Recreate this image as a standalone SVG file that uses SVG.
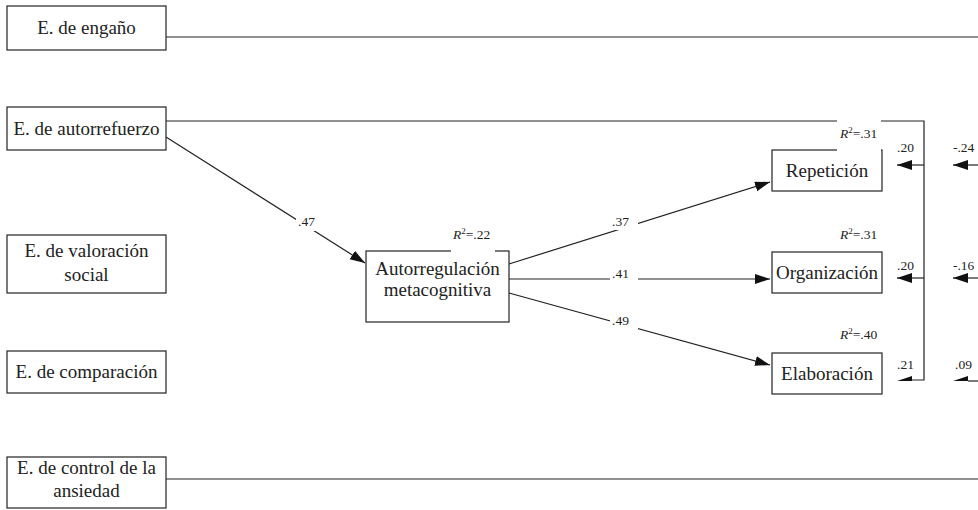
<svg xmlns="http://www.w3.org/2000/svg" width="978" height="510" viewBox="0 0 978 510">
<defs>
<style>
.box{fill:#fff;stroke:#222;stroke-width:1.2}
.t{font-family:'Liberation Serif','Times New Roman',Times,'DejaVu Serif',serif;font-size:19px;fill:#222;text-anchor:middle}
.s{font-family:'Liberation Serif','Times New Roman',Times,'DejaVu Serif',serif;font-size:13.5px;fill:#222}
.ln{stroke:#222;stroke-width:1.2;fill:none}
.bg{fill:#fff}
</style>
<marker id="ah" markerUnits="userSpaceOnUse" markerWidth="16" markerHeight="12" refX="15" refY="5" orient="auto">
<path d="M0,0 L15,5 L0,10 z" fill="#111"/>
</marker>
</defs>
<g id="connectors">
<line class="ln" x1="166" y1="37" x2="978" y2="37"/>
<line class="ln" x1="166" y1="479" x2="978" y2="479"/>
<polyline class="ln" points="166,121 924,121 924,380 912,380"/>
<line class="ln" x1="166" y1="137" x2="365" y2="263" marker-end="url(#ah)"/>
<line class="ln" x1="509" y1="264" x2="770" y2="182" marker-end="url(#ah)"/>
<line class="ln" x1="509" y1="279" x2="770" y2="279" marker-end="url(#ah)"/>
<line class="ln" x1="509" y1="293" x2="770" y2="365" marker-end="url(#ah)"/>
<line class="ln" x1="924" y1="165" x2="897" y2="165" marker-end="url(#ah)"/>
<line class="ln" x1="924" y1="278" x2="897" y2="278" marker-end="url(#ah)"/>
<polygon points="897,381 912,376 912,381" fill="#111"/>
<line class="ln" x1="978" y1="165" x2="953" y2="165" marker-end="url(#ah)"/>
<line class="ln" x1="978" y1="278" x2="953" y2="278" marker-end="url(#ah)"/>
<line class="ln" x1="978" y1="381" x2="968" y2="381"/>
<polygon points="953,381 968,376 968,381" fill="#111"/>
<rect class="bg" x="296" y="211" width="22" height="20"/>
<text class="s" x="298" y="226">.47</text>
<rect class="bg" x="610" y="212" width="28" height="18"/>
<text class="s" x="612" y="226">.37</text>
<rect class="bg" x="610" y="266" width="28" height="18"/>
<text class="s" x="612" y="278">.41</text>
<rect class="bg" x="610" y="311" width="28" height="18"/>
<text class="s" x="612" y="325">.49</text>
<text class="s" x="897" y="152">.20</text>
<text class="s" x="897" y="270">.20</text>
<text class="s" x="897" y="369">.21</text>
<text class="s" x="953" y="152">-.24</text>
<text class="s" x="953" y="270">-.16</text>
<text class="s" x="955" y="369">.09</text>
</g>
<g id="engano">
<rect class="box" x="7" y="6" width="159" height="44"/>
<text class="t" x="86.5" y="34">E. de engaño</text>
</g>
<g id="autorrefuerzo">
<rect class="box" x="7" y="107" width="159" height="43"/>
<text class="t" x="86.5" y="135">E. de autorrefuerzo</text>
</g>
<g id="valoracion">
<rect class="box" x="7" y="235" width="159" height="58"/>
<text class="t" x="86.5" y="257">E. de valoración</text>
<text class="t" x="86.5" y="281">social</text>
</g>
<g id="comparacion">
<rect class="box" x="7" y="351" width="159" height="42"/>
<text class="t" x="86.5" y="378">E. de comparación</text>
</g>
<g id="control">
<rect class="box" x="7" y="457" width="159" height="51"/>
<text class="t" x="86.5" y="474">E. de control de la</text>
<text class="t" x="86.5" y="497">ansiedad</text>
</g>
<g id="autorregulacion">
<rect class="box" x="366" y="251" width="143" height="71"/>
<text class="t" x="437.5" y="275">Autorregulación</text>
<text class="t" x="437.5" y="296">metacognitiva</text>
<rect class="bg" x="451" y="226" width="44" height="27"/>
<text class="s" x="453" y="239"><tspan font-style="italic">R</tspan><tspan font-size="9" dy="-5">2</tspan><tspan dy="5">=.22</tspan></text>
</g>
<g id="repeticion">
<rect class="box" x="772" y="150" width="110" height="41"/>
<text class="t" x="827" y="177">Repetición</text>
<rect class="bg" x="837" y="118" width="44" height="33"/>
<text class="s" x="840" y="138"><tspan font-style="italic">R</tspan><tspan font-size="9" dy="-5">2</tspan><tspan dy="5">=.31</tspan></text>
</g>
<g id="organizacion">
<rect class="box" x="772" y="252" width="110" height="41"/>
<text class="t" x="827" y="279">Organización</text>
<text class="s" x="840" y="239"><tspan font-style="italic">R</tspan><tspan font-size="9" dy="-5">2</tspan><tspan dy="5">=.31</tspan></text>
</g>
<g id="elaboracion">
<rect class="box" x="772" y="353" width="110" height="41"/>
<text class="t" x="827" y="380">Elaboración</text>
<text class="s" x="840" y="339"><tspan font-style="italic">R</tspan><tspan font-size="9" dy="-5">2</tspan><tspan dy="5">=.40</tspan></text>
</g>
</svg>
